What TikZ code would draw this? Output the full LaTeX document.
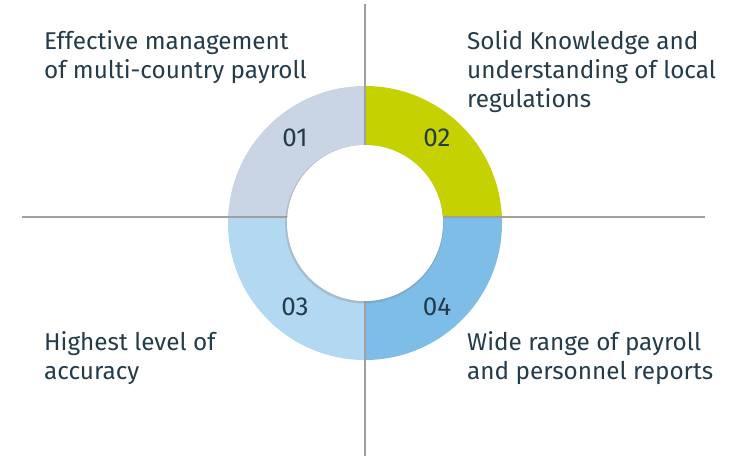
\documentclass[tikz,border=0pt]{standalone}
\usepackage{fontspec}
\setmainfont{Fira Sans}[Scale=1]
\usetikzlibrary{shadows,fadings}
\definecolor{txt}{HTML}{243B4A}
\definecolor{qone}{HTML}{C9D4E5}
\definecolor{qtwo}{HTML}{C5D100}
\definecolor{qthree}{HTML}{B3D8F2}
\definecolor{qfour}{HTML}{7DBDE8}
\definecolor{axis}{HTML}{A0A0A0}
\tikzset{
  lbl/.style={anchor=base west, text=txt, font=\fontsize{24.3}{29}\selectfont, align=left, inner sep=0pt},
  num/.style={text=txt, font=\fontsize{26}{28}\selectfont, inner sep=0pt},
  axisline/.style={draw=axis, line width=1.2pt},
}
\begin{document}
\begin{tikzpicture}[x=1pt,y=-1pt]
\useasboundingbox (0,0) rectangle (729,456);
\coordinate (C) at (365,217);
\coordinate (O) at (365,223);
% quadrants
\begin{scope}
\clip (O) circle (137);
\fill[qone] (C) rectangle (200,60);
\fill[qtwo] (C) rectangle (530,60);
\fill[qthree] (C) rectangle (200,380);
\fill[qfour] (C) rectangle (530,380);
\end{scope}
% axes
\draw[axisline, drop shadow={opacity=0.2, shadow xshift=1.5pt, shadow yshift=0pt}] (365,4) -- (365,456);
\draw[axisline, drop shadow={opacity=0.15, shadow xshift=0pt, shadow yshift=-1.5pt}] (22,217) -- (705,217);
% inner circle
\fill[white, drop shadow={opacity=0.3, shadow xshift=-0.6pt, shadow yshift=-1.2pt, shadow scale=1.015}] (O) circle (78);
% numbers
\node[num] (n1) at (295,138) {01};
\node[num] (n2) at (437,138) {02};
\node[num] (n3) at (295,307) {03};
\node[num] (n4) at (437,307) {04};
% labels (anchored at the baseline of their last line)
\node[lbl] (t1) at (44,78) {Effective management\\of multi-country payroll};
\node[lbl] (t2) at (467,107) {Solid Knowledge and\\understanding of local\\regulations};
\node[lbl] (t3) at (44,379) {Highest level of\\accuracy};
\node[lbl] (t4) at (467,379) {Wide range of payroll\\and personnel reports};
\end{tikzpicture}
\end{document}
